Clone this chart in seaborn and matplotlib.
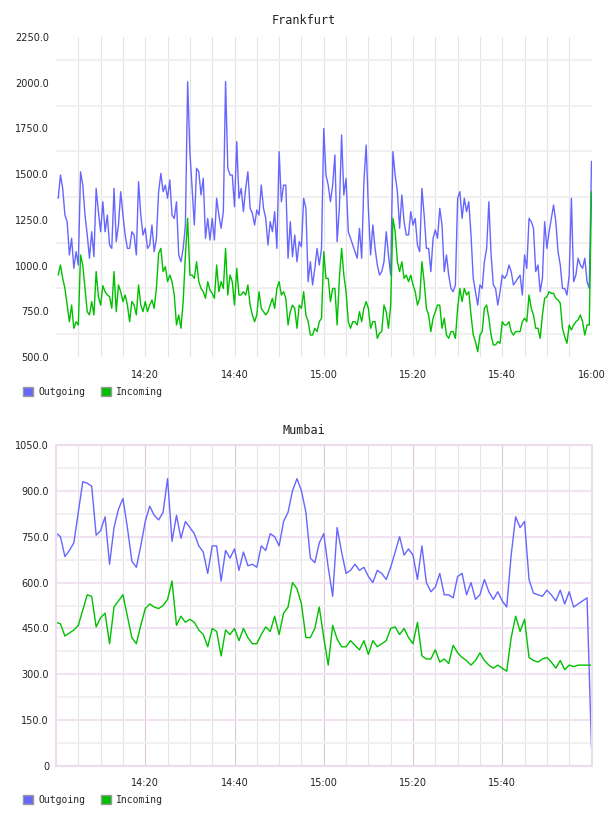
import numpy as np
import pandas as pd
import seaborn as sns
import matplotlib.pyplot as plt
from matplotlib.patches import Patch

# Frankfurt: one sample every 30 s, 14:00:30 .. 16:00
fra_outgoing = [
    1368, 1495, 1422, 1276, 1240, 1058, 1149, 985, 1076, 1003,
    1513, 1440, 1276, 1167, 1040, 1185, 1049, 1422, 1295, 1185,
    1349, 1185, 1276, 1112, 1094, 1422, 1131, 1222, 1404, 1276,
    1167, 1094, 1094, 1185, 1167, 1058, 1459, 1276, 1167, 1204,
    1094, 1112, 1222, 1076, 1149, 1404, 1504, 1404, 1440, 1368,
    1468, 1276, 1258, 1349, 1058, 1021, 1094, 1222, 2005, 1623,
    1422, 1222, 1532, 1513, 1386, 1477, 1149, 1258, 1140, 1258,
    1140, 1368, 1276, 1204, 1295, 2006, 1532, 1495, 1495, 1322,
    1678, 1368, 1422, 1295, 1422, 1513, 1313, 1286, 1222, 1304,
    1276, 1440, 1313, 1258, 1112, 1240, 1185, 1295, 1094, 1623,
    1349, 1440, 1440, 1040, 1240, 1049, 1167, 1021, 1131, 1103,
    1368, 1313, 912, 1021, 894, 985, 1094, 1003, 1094, 1750,
    1495, 1440, 1349, 1440, 1605, 1131, 1313, 1714, 1386, 1477,
    1185, 1149, 1112, 1076, 1040, 1204, 1040, 1459, 1659, 1313,
    1058, 1222, 1094, 1003, 948, 967, 1021, 1185, 1058, 948,
    1623, 1495, 1404, 1204, 1386, 1240, 1167, 1167, 1295, 1222,
    1258, 1112, 1076, 1422, 1276, 1094, 1094, 967, 1149, 1195,
    1149, 1313, 1222, 967, 1058, 948, 875, 857, 894, 1368,
    1404, 1258, 1368, 1295, 1349, 1167, 930, 857, 784, 894,
    875, 1021, 1094, 1349, 1058, 894, 875, 784, 857, 948,
    930, 948, 1003, 967, 894, 912, 930, 948, 839, 1058,
    985, 1258, 1240, 1204, 967, 1003, 857, 930, 1240, 1094,
    1185, 1258, 1331, 1240, 1076, 1003, 875, 875, 839, 948,
    1368, 912, 948, 1040, 1003, 985, 1040, 912, 875, 1570,
]
fra_incoming = [
    948, 1003, 930, 875, 784, 693, 784, 657, 693, 675,
    1058, 1003, 875, 748, 730, 803, 730, 967, 830, 784,
    890, 857, 839, 830, 766, 967, 748, 894, 857, 803,
    839, 784, 693, 803, 784, 730, 894, 784, 748, 803,
    748, 784, 812, 766, 875, 1067, 1094, 967, 994, 912,
    948, 912, 839, 675, 730, 657, 803, 1058, 1258, 948,
    948, 930, 1021, 912, 875, 857, 821, 912, 866, 848,
    821, 1003, 857, 912, 875, 1094, 839, 948, 912, 784,
    985, 839, 839, 857, 839, 894, 784, 730, 693, 730,
    857, 766, 748, 730, 748, 784, 821, 766, 875, 912,
    839, 857, 821, 675, 748, 784, 766, 657, 784, 766,
    857, 730, 693, 620, 620, 657, 639, 693, 712, 1076,
    930, 930, 803, 875, 875, 675, 930, 1094, 948, 857,
    693, 657, 693, 693, 675, 748, 693, 766, 803, 766,
    657, 693, 693, 602, 630, 639, 784, 748, 657, 784,
    1258, 1185, 1021, 967, 1021, 930, 948, 912, 948, 894,
    857, 784, 821, 1021, 912, 766, 730, 639, 712, 748,
    784, 784, 657, 712, 620, 602, 639, 639, 602, 766,
    875, 803, 875, 839, 857, 730, 620, 584, 529, 620,
    639, 766, 784, 712, 620, 566, 566, 584, 575, 693,
    675, 675, 693, 639, 620, 639, 639, 639, 693, 712,
    693, 839, 766, 730, 657, 657, 602, 730, 821, 830,
    857, 848, 848, 821, 812, 794, 657, 611, 575, 675,
    648, 675, 693, 703, 730, 693, 620, 675, 675, 1404,
]

# Mumbai: one sample per minute, 14:00 .. 16:00
mum_outgoing = [
    762, 750, 685, 705, 730, 830, 930, 925, 915, 755,
    770, 815, 660, 780, 840, 875, 780, 670, 650, 720,
    800, 850, 820, 805, 830, 940, 735, 820, 745, 800,
    780, 760, 720, 700, 630, 720, 720, 605, 705, 680,
    710, 640, 700, 655, 660, 650, 720, 705, 760, 750,
    720, 800, 830, 900, 940, 900, 830, 680, 665, 730,
    760, 650, 555, 780, 700, 630, 640, 660, 640, 650,
    620, 600, 640, 630, 610, 650, 700, 750, 690, 710,
    690, 610, 720, 600, 570, 585, 630, 560, 560, 550,
    620, 630, 560, 600, 545, 560, 610, 570, 545, 570,
    540, 520, 690, 815, 780, 800, 610, 565, 560, 555,
    575, 560, 540, 575, 530, 570, 520, 530, 540, 550,
    60,
]
mum_incoming = [
    470, 465, 425, 435, 445, 460, 510, 560, 555, 455,
    485, 500, 400, 520, 540, 560, 490, 420, 400, 460,
    515, 530, 520, 515, 525, 545, 605, 460, 490, 470,
    480, 470, 445, 430, 390, 450, 440, 360, 445, 430,
    450, 410, 450, 420, 400, 400, 430, 455, 440, 490,
    430, 500, 520, 600, 580, 530, 420, 420, 450, 520,
    420, 330, 460, 415, 390, 390, 410, 395, 380, 410,
    365, 410, 390, 400, 410, 450, 455, 430, 450, 420,
    400, 470, 360, 350, 350, 380, 340, 350, 335, 395,
    370, 355, 345, 330, 345, 370, 345, 330, 320, 330,
    320, 310, 420, 490, 440, 480, 355, 345, 340, 350,
    355, 340, 320, 345, 315, 330, 325, 330, 330, 330,
    330,
]

series_names = ["Outgoing", "Incoming"]
series_colors = ["#6666ff", "#00c000"]
time_ticks = [20, 40, 60, 80, 100, 120]
time_labels = ["14:20", "14:40", "15:00", "15:20", "15:40", "16:00"]
fra_yticks = [500, 750, 1000, 1250, 1500, 1750, 2000, 2250]
mum_yticks = [0, 150, 300, 450, 600, 750, 900, 1050]

MONO = "DejaVu Sans Mono"
SANS = "DejaVu Sans"


def to_long(minutes, outgoing, incoming):
    return pd.DataFrame({
        "minute": np.concatenate([minutes, minutes]),
        "value": list(outgoing) + list(incoming),
        "series": [series_names[0]] * len(outgoing) + [series_names[1]] * len(incoming),
    })


def draw_panel(ax, df, yticks, ylabels, xlabels, framed):
    sns.lineplot(data=df, x="minute", y="value", hue="series",
                 hue_order=series_names, palette=series_colors,
                 linewidth=1.0, legend=False, ax=ax)
    ax.set_xlim(0, 120)
    ax.set_ylim(yticks[0], yticks[-1])
    ax.set_xlabel("")
    ax.set_ylabel("")

    step = yticks[1] - yticks[0]
    ax.set_xticks(time_ticks)
    ax.set_xticklabels(xlabels)
    ax.set_xticks([m for m in range(5, 121, 5) if m not in time_ticks], minor=True)
    ax.set_yticks(yticks)
    ax.set_yticklabels(ylabels)
    ax.set_yticks([v + step / 2 for v in yticks[:-1]], minor=True)
    ax.tick_params(which="both", length=0)
    ax.tick_params(axis="x", pad=9, labelsize=7, labelcolor="#222222")
    ax.tick_params(axis="y", pad=5, labelsize=7, labelcolor="#222222")
    for lab in ax.get_xticklabels() + ax.get_yticklabels():
        lab.set_fontfamily(SANS)

    ax.set_axisbelow(True)
    if framed:
        ax.grid(True, axis="x", which="major", color="#dcc6dc", linewidth=0.8)
        ax.grid(True, axis="x", which="minor", color="#e4e4e4", linewidth=0.8)
        ax.grid(True, axis="y", which="major", color="#f0e2f0", linewidth=1.5)
        ax.grid(True, axis="y", which="minor", color="#f0f0f0", linewidth=1.5)
        for sp in ax.spines.values():
            sp.set_color("#ecdcec")
            sp.set_linewidth(1.5)
    else:
        ax.grid(True, axis="x", which="both", color="#e4e4e4", linewidth=0.8)
        ax.grid(True, axis="y", which="minor", color="#f0f0f0", linewidth=1.5)
        ax.grid(False, axis="y", which="major")
        for sp in ax.spines.values():
            sp.set_visible(False)


sns.set_style("white")
fig = plt.figure(figsize=(6.08, 8.16), dpi=100)
W, H = 608, 816
ax_top = fig.add_axes([56 / W, 1 - 357 / H, 535.5 / W, 320 / H])
ax_bot = fig.add_axes([56 / W, 1 - 766 / H, 535.5 / W, 321 / H])

fra_minutes = np.arange(1, len(fra_outgoing) + 1) * 0.5
mum_minutes = np.arange(len(mum_outgoing))

draw_panel(ax_top, to_long(fra_minutes, fra_outgoing, fra_incoming),
           fra_yticks, [f"{v:.1f}" for v in fra_yticks], time_labels, framed=False)
draw_panel(ax_bot, to_long(mum_minutes, mum_outgoing, mum_incoming),
           mum_yticks, ["0"] + [f"{v:.1f}" for v in mum_yticks[1:]],
           time_labels[:-1] + [""], framed=True)

fig.text(0.5, 1 - 20 / H, "Frankfurt", ha="center", va="center",
         family=MONO, fontsize=8.5, color="#222222")
fig.text(0.5, 1 - 430 / H, "Mumbai", ha="center", va="center",
         family=MONO, fontsize=8.5, color="#222222")

handles = [Patch(facecolor=c, edgecolor="#999999", linewidth=1.0, label=n)
           for n, c in zip(series_names, series_colors)]
for ypix in (392, 800):
    fig.legend(handles=handles, loc="center left",
               bbox_to_anchor=(23 / W, 1 - ypix / H), ncol=2, frameon=False,
               borderpad=0, borderaxespad=0, handlelength=1.05, handleheight=1.05,
               handletextpad=0.5, columnspacing=1.6,
               prop={"family": MONO, "size": 7})

fig.savefig("out.png", dpi=100)
